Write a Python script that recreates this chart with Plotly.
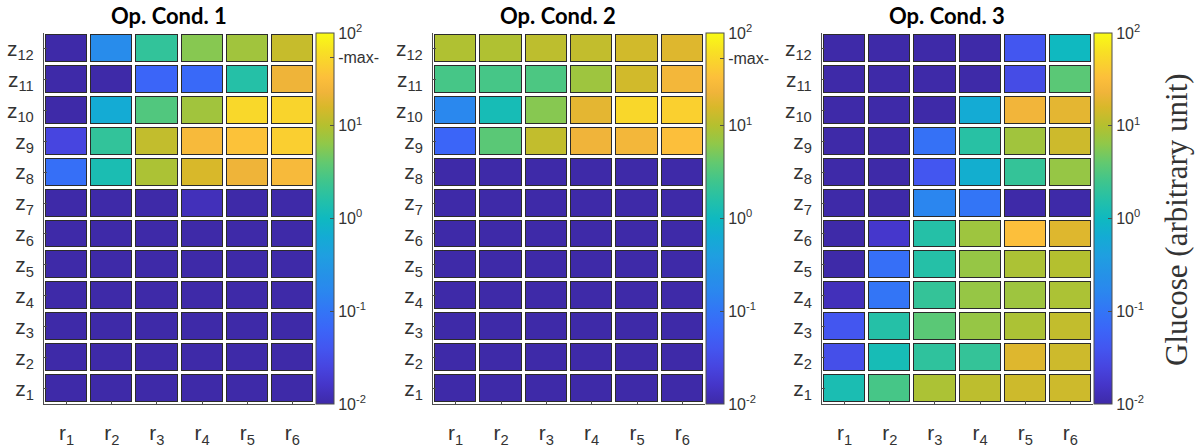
import numpy as np
import plotly.graph_objects as go

# categories
r_labels = ['r<sub>%d</sub>' % i for i in range(1, 7)]
z_labels = ['z<sub>%d</sub>' % i for i in range(1, 13)]

# glucose values, rows z1 .. z12, columns r1 .. r6
cond1 = [
    [0.01, 0.01, 0.01, 0.01, 0.01, 0.01],
    [0.01, 0.01, 0.01, 0.01, 0.01, 0.01],
    [0.01, 0.01, 0.01, 0.01, 0.01, 0.01],
    [0.01, 0.01, 0.01, 0.01, 0.01, 0.01],
    [0.01, 0.01, 0.01, 0.01, 0.01, 0.01],
    [0.01, 0.01, 0.01, 0.01, 0.01, 0.01],
    [0.01, 0.01, 0.01, 0.013, 0.01, 0.01],
    [0.083, 1.3, 9.1, 15.8, 22.4, 28],
    [0.025, 2.0, 12, 28, 35, 45],
    [0.01, 0.63, 3.2, 7.9, 54, 50],
    [0.01, 0.01, 0.063, 0.07, 1.6, 22.4],
    [0.01, 0.2, 2.0, 5.8, 7.9, 12.6],
]
cond2 = [
    [0.01, 0.01, 0.01, 0.01, 0.01, 0.01],
    [0.01, 0.01, 0.01, 0.01, 0.01, 0.01],
    [0.01, 0.01, 0.01, 0.01, 0.01, 0.01],
    [0.01, 0.01, 0.01, 0.01, 0.01, 0.01],
    [0.01, 0.01, 0.01, 0.01, 0.01, 0.01],
    [0.01, 0.01, 0.01, 0.01, 0.01, 0.01],
    [0.01, 0.01, 0.01, 0.01, 0.01, 0.01],
    [0.01, 0.01, 0.01, 0.01, 0.01, 0.01],
    [0.063, 3.6, 12, 23, 25, 33],
    [0.17, 1.2, 5.8, 19, 53, 46],
    [2.75, 2.75, 3.0, 7.6, 14.5, 25],
    [9.5, 9.5, 11.2, 12, 14.5, 17.4],
]
cond3 = [
    [1.3, 2.75, 9.1, 11.2, 13.8, 13.8],
    [0.033, 1.2, 1.9, 2.1, 17.4, 13.8],
    [0.04, 1.6, 3.6, 6.9, 9.1, 12],
    [0.013, 0.1, 2.1, 6.9, 7.6, 9.1],
    [0.01, 0.083, 1.6, 6.9, 9.1, 10],
    [0.01, 0.017, 1.6, 7.6, 33, 17.4],
    [0.01, 0.01, 0.16, 0.1, 0.01, 0.01],
    [0.01, 0.01, 0.04, 0.7, 2.1, 6.9],
    [0.01, 0.01, 0.09, 1.7, 7.9, 13.8],
    [0.01, 0.01, 0.01, 0.63, 24, 19],
    [0.01, 0.01, 0.01, 0.01, 0.03, 3.6],
    [0.01, 0.01, 0.01, 0.01, 0.04, 1.0],
]
titles = ['Op. Cond. 1', 'Op. Cond. 2', 'Op. Cond. 3']
cbar_tickvals = [0.01, 0.1, 1, 10, 100]
cbar_ticktext = ['10<sup>-2</sup>', '10<sup>-1</sup>', '10<sup>0</sup>', '10<sup>1</sup>', '10<sup>2</sup>']

# parula-like colormap
parula = [
    [0.00, '#3e2aa8'], [0.05, '#4535c8'], [0.10, '#4745e0'], [0.15, '#4356f0'],
    [0.20, '#3b65f8'], [0.25, '#3375f6'], [0.30, '#2b86ef'], [0.35, '#2592e7'],
    [0.40, '#1f9fe0'], [0.45, '#14abd4'], [0.50, '#0fb9c0'], [0.55, '#24c0a8'],
    [0.60, '#3fc58d'], [0.65, '#62c970'], [0.70, '#8fc84a'], [0.75, '#b4c02f'],
    [0.80, '#d8b82a'], [0.84, '#f0b43a'], [0.88, '#fcbf3b'], [0.95, '#f8e024'],
    [1.00, '#f9fb15'],
]

W, H = 1203, 448
ax_x = [(44, 315), (433, 705), (822, 1093)]
y0, y1 = 1 - 404 / H, 1 - 33 / H
axcol = '#333333'

fig = go.Figure()
for k, data in enumerate([cond1, cond2, cond3]):
    n = '' if k == 0 else str(k + 1)
    zlog = np.log10(np.array(data, dtype=float))
    vmax = float(np.array(data).max())
    tv = [np.log10(v) for v in cbar_tickvals]
    tt = list(cbar_ticktext)
    if k < 2:
        tv.append(np.log10(vmax))
        tt.append('-max-')
    # dark frame layer underneath
    fig.add_trace(go.Heatmap(
        x=r_labels, y=z_labels, z=np.zeros_like(zlog),
        colorscale=[[0, '#2b2b2b'], [1, '#2b2b2b']], showscale=False,
        xgap=3, ygap=3, hoverinfo='skip', xaxis='x' + n, yaxis='y' + n))
    fig.add_trace(go.Heatmap(
        x=r_labels, y=z_labels, z=zlog, zmin=-2, zmax=2, colorscale=parula,
        xgap=5, ygap=5, xaxis='x' + n, yaxis='y' + n,
        colorbar=dict(
            x=(ax_x[k][1] + 1) / W, xanchor='left', xpad=0, ypad=0,
            y=y0, yanchor='bottom', len=y1 - y0, lenmode='fraction',
            thickness=18, outlinecolor='#4d4d4d', outlinewidth=1,
            tickmode='array', tickvals=tv, ticktext=tt,
            ticks='inside', ticklen=4, tickcolor='#4d4d4d',
            tickfont=dict(family='Liberation Sans', size=16, color=axcol))))
    fig.update_layout(**{
        'xaxis' + n: dict(domain=[ax_x[k][0] / W, ax_x[k][1] / W], anchor='y' + n,
                          showline=True, linecolor='#4d4d4d', linewidth=1,
                          ticks='inside', ticklen=3, tickcolor='#4d4d4d',
                          showgrid=False, zeroline=False, ticklabelstandoff=10,
                          tickfont=dict(family='Liberation Sans', size=21, color=axcol)),
        'yaxis' + n: dict(domain=[y0, y1], anchor='x' + n,
                          showline=True, linecolor='#4d4d4d', linewidth=1,
                          ticks='inside', ticklen=3, tickcolor='#4d4d4d',
                          showgrid=False, zeroline=False, ticklabelstandoff=5,
                          tickfont=dict(family='Liberation Sans', size=21, color=axcol)),
    })
    fig.add_annotation(text='<b>%s</b>' % titles[k], xref='paper', yref='paper',
                       x=((ax_x[k][0] + ax_x[k][1]) / 2 - 11) / W, y=1 - 15 / H,
                       xanchor='center', yanchor='middle',
                       showarrow=False, font=dict(family='Lato', size=22, color='black'))

fig.add_annotation(text='Glucose (arbitrary unit)', textangle=-90, xref='paper', yref='paper',
                   x=1176 / W, y=1 - 220 / H, xanchor='center', yanchor='middle',
                   showarrow=False, font=dict(family='Liberation Serif', size=31, color=axcol))

fig.update_layout(width=W, height=H, margin=dict(l=0, r=0, t=0, b=0),
                  paper_bgcolor='white', plot_bgcolor='white')
fig.write_html('out.html', config={'displayModeBar': False},
               post_script="document.body.style.margin='0';")
